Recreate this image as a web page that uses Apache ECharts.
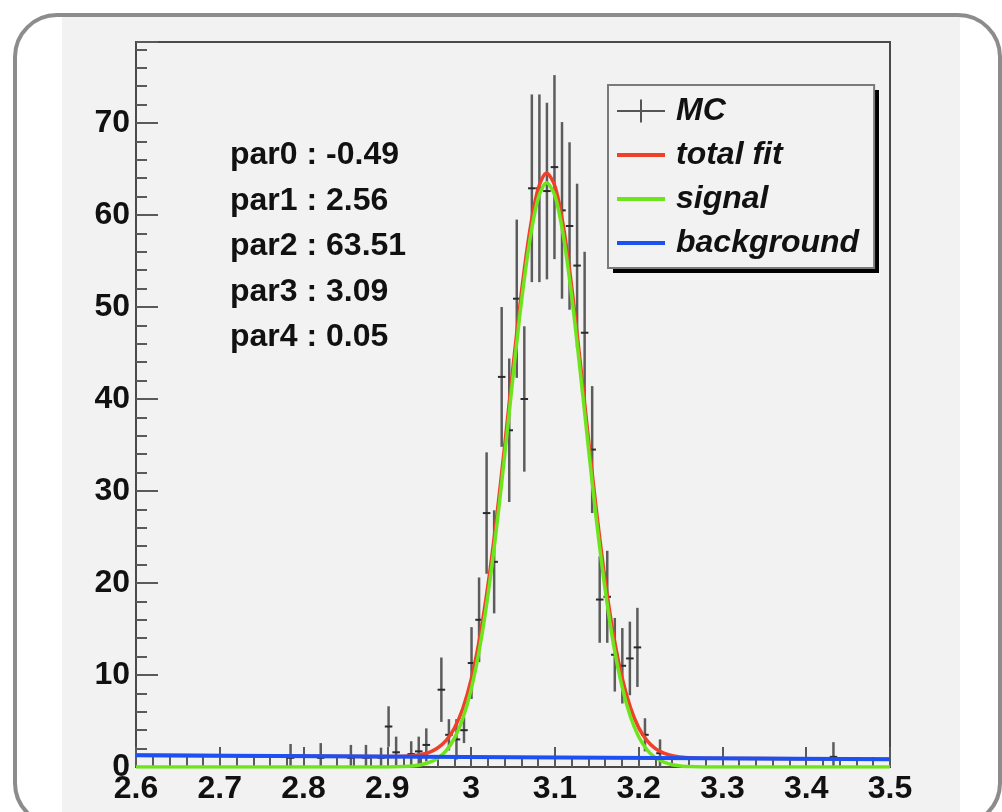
<!DOCTYPE html>
<html><head><meta charset="utf-8">
<script src="https://cdn.jsdelivr.net/npm/echarts@6/dist/echarts.min.js"></script>
<style>html,body{margin:0;padding:0;background:#fff}#c{width:1002px;height:812px}</style>
</head><body><div id="c"></div><script>
// ---- data ----
const binWidth = 0.009;
const mcX = [2.7845, 2.8205, 2.8565, 2.8745, 2.8925, 2.9015, 2.9105, 2.9285, 2.9375, 2.9465,
             2.9645, 2.9735, 2.9825, 2.9915, 3.0005, 3.0095, 3.0185, 3.0275, 3.0365, 3.0455,
             3.0545, 3.0635, 3.0725, 3.0815, 3.0905, 3.0995, 3.1085, 3.1175, 3.1265, 3.1355,
             3.1445, 3.1535, 3.1625, 3.1715, 3.1805, 3.1895, 3.1985, 3.2075, 3.2255, 3.4325];
const mcY = [1, 1, 1, 1, 1, 4.4, 1.6, 1.4, 1.7, 2.4,
             8.4, 3.5, 3.0, 4.0, 11.3, 16.0, 27.6, 22.3, 42.4, 36.6,
             50.9, 40.0, 62.9, 62.9, 62.6, 65.2, 60.5, 58.8, 54.5, 47.2,
             34.5, 18.2, 18.5, 12.2, 11.0, 11.8, 13.0, 3.5, 1.5, 1.1];
const mcErr = [1.5, 1.6, 1.4, 1.4, 1.1, 2.2, 1.7, 1.4, 1.6, 1.8,
               3.5, 1.7, 2.2, 1.4, 3.9, 4.6, 6.6, 5.6, 7.6, 7.8,
               8.6, 7.9, 10.2, 10.2, 9.6, 10.0, 9.6, 9.1, 8.9, 8.8,
               6.9, 4.7, 5.0, 4.0, 4.1, 4.0, 4.3, 1.8, 1.5, 1.6];
const curveX = [2.6, 2.88, 2.9, 2.92, 2.93, 2.94, 2.95, 2.96, 2.97, 2.98, 2.99,
                3.0, 3.01, 3.02, 3.03, 3.04, 3.05, 3.06, 3.07, 3.08, 3.09,
                3.10, 3.11, 3.12, 3.13, 3.14, 3.15, 3.16, 3.17, 3.18, 3.19,
                3.20, 3.21, 3.22, 3.23, 3.24, 3.25, 3.26, 3.28, 3.30, 3.5];
const signalY = [0, 0, 0.01, 0.05, 0.11, 0.24, 0.49, 0.95, 1.76, 3.11, 5.24,
                 8.41, 12.82, 18.61, 25.7, 33.8, 42.4, 50.5, 57.2, 61.8, 63.5,
                 62.1, 57.8, 51.2, 43.2, 34.7, 26.5, 19.3, 13.3, 8.78, 5.51,
                 3.29, 1.87, 1.01, 0.52, 0.25, 0.12, 0.05, 0.01, 0, 0];
const totalY = [1.29, 1.15, 1.15, 1.18, 1.23, 1.36, 1.60, 2.06, 2.86, 4.21, 6.33,
                9.50, 13.91, 19.69, 26.78, 34.87, 43.47, 51.56, 58.26, 62.85, 64.55,
                63.14, 58.84, 52.23, 44.23, 35.72, 27.52, 20.31, 14.31, 9.78, 6.51,
                4.28, 2.86, 1.99, 1.50, 1.22, 1.09, 1.01, 0.96, 0.94, 0.85];
const bgX = [2.6, 3.5];
const bgY = [1.29, 0.85];
const paramLines = ['par0 : -0.49', 'par1 : 2.56', 'par2 : 63.51', 'par3 : 3.09', 'par4 : 0.05'];
const seriesNames = ['MC', 'total fit', 'signal', 'background'];
const xMin = 2.6, xMax = 3.5, xStep = 0.1;
const yMin = 0, yMax = 78.8, yStep = 10;

// ---- chart ----
const FONT = '"Liberation Sans", Arial, Helvetica, sans-serif';
const chart = echarts.init(document.getElementById('c'), null, {renderer: 'canvas'});

function renderErr(params, api) {
  const x = api.value(0), v = api.value(1), e = api.value(2);
  const pTop = api.coord([x, v + e]);
  const pBot = api.coord([x, Math.max(v - e, 0)]);
  const pMid = api.coord([x, v]);
  const hw = api.size([binWidth, 0])[0] / 2;
  return {type: 'group', children: [
    {type: 'line', shape: {x1: pTop[0], y1: pTop[1], x2: pBot[0], y2: pBot[1]},
     style: {stroke: '#5c5c5c', lineWidth: 2.5}},
    {type: 'line', shape: {x1: pMid[0] - hw, y1: pMid[1], x2: pMid[0] + hw, y2: pMid[1]},
     style: {stroke: '#2a2a2a', lineWidth: 2}}
  ]};
}

const graphics = [
  {type: 'rect', z: -100, shape: {x: 62, y: 17, width: 898, height: 800}, style: {fill: '#f2f2f2'}},
  {type: 'rect', z: -99, shape: {x: 15, y: 15, width: 985, height: 810, r: 42},
   style: {fill: 'none', stroke: '#8c8c8c', lineWidth: 4}},
  // legend drop shadow
  {type: 'rect', z: 1, shape: {x: 613, y: 90, width: 266, height: 183}, style: {fill: '#000'}}
];
paramLines.forEach((t, i) => {
  graphics.push({type: 'text', x: 230, y: 155.5 + i * 45.5, z: 50,
    style: {text: t, font: 'bold 32px ' + FONT, fill: '#111', verticalAlign: 'middle', align: 'left'}});
});

chart.setOption({
  animation: false,
  backgroundColor: '#ffffff',
  graphic: graphics,
  grid: {left: 136, right: 112, top: 42, bottom: 45, show: true,
         borderColor: '#4a4a4a', borderWidth: 2, backgroundColor: 'transparent'},
  legend: {
    orient: 'vertical', left: 608, top: 85, z: 10,
    padding: [10, 15, 9, 9],
    itemWidth: 48, itemHeight: 23, itemGap: 12,
    backgroundColor: '#f2f2f2', borderColor: '#7a7a7a', borderWidth: 2,
    textStyle: {fontFamily: FONT, fontSize: 32, fontWeight: 'bold', fontStyle: 'italic',
                color: '#111', padding: [0, 0, 0, 6]},
    data: [
      {name: seriesNames[0], icon: 'path://M0,10.5H48V12.5H0Z M23,0H25V23H23Z'},
      {name: seriesNames[1], icon: 'path://M0,0H48V4H0Z'},
      {name: seriesNames[2], icon: 'path://M0,0H48V4H0Z'},
      {name: seriesNames[3], icon: 'path://M0,0H48V4H0Z'}
    ]
  },
  xAxis: {
    type: 'value', min: xMin, max: xMax, interval: xStep,
    axisLine: {show: true, onZero: false, lineStyle: {color: '#4a4a4a', width: 2}},
    axisTick: {show: true, inside: true, length: 20, lineStyle: {color: '#5a5a5a', width: 2}},
    minorTick: {show: true, splitNumber: 5, length: 10, lineStyle: {color: '#5a5a5a', width: 2}},
    splitLine: {show: false},
    axisLabel: {margin: 6, fontFamily: FONT, fontSize: 32, fontWeight: 'bold', color: '#111',
                formatter: v => String(parseFloat(v.toFixed(1)))}
  },
  yAxis: {
    type: 'value', min: yMin, max: yMax, interval: yStep,
    axisLine: {show: true, onZero: false, lineStyle: {color: '#4a4a4a', width: 2}},
    axisTick: {show: true, inside: true, length: 22, lineStyle: {color: '#5a5a5a', width: 2}},
    minorTick: {show: true, splitNumber: 5, length: 11, lineStyle: {color: '#5a5a5a', width: 2}},
    splitLine: {show: false},
    axisLabel: {margin: 6, showMaxLabel: false, fontFamily: FONT, fontSize: 32, fontWeight: 'bold', color: '#111'}
  },
  series: [
    {name: seriesNames[0], type: 'custom', renderItem: renderErr, clip: true,
     itemStyle: {color: '#555555'}, encode: {x: 0, y: 1},
     data: mcX.map((x, i) => [x, mcY[i], mcErr[i]])},
    {name: seriesNames[1], type: 'line', showSymbol: false, smooth: 0.3, clip: true,
     color: '#f0402a', lineStyle: {color: '#f0402a', width: 3.5},
     data: curveX.map((x, i) => [x, totalY[i]])},
    {name: seriesNames[2], type: 'line', showSymbol: false, smooth: 0.3, clip: true,
     color: '#6ee41c', lineStyle: {color: '#6ee41c', width: 3.5},
     data: curveX.map((x, i) => [x, signalY[i]])},
    {name: seriesNames[3], type: 'line', showSymbol: false, clip: true,
     color: '#1c50f2', lineStyle: {color: '#1c50f2', width: 4},
     data: bgX.map((x, i) => [x, bgY[i]])}
  ]
});
</script></body></html>
